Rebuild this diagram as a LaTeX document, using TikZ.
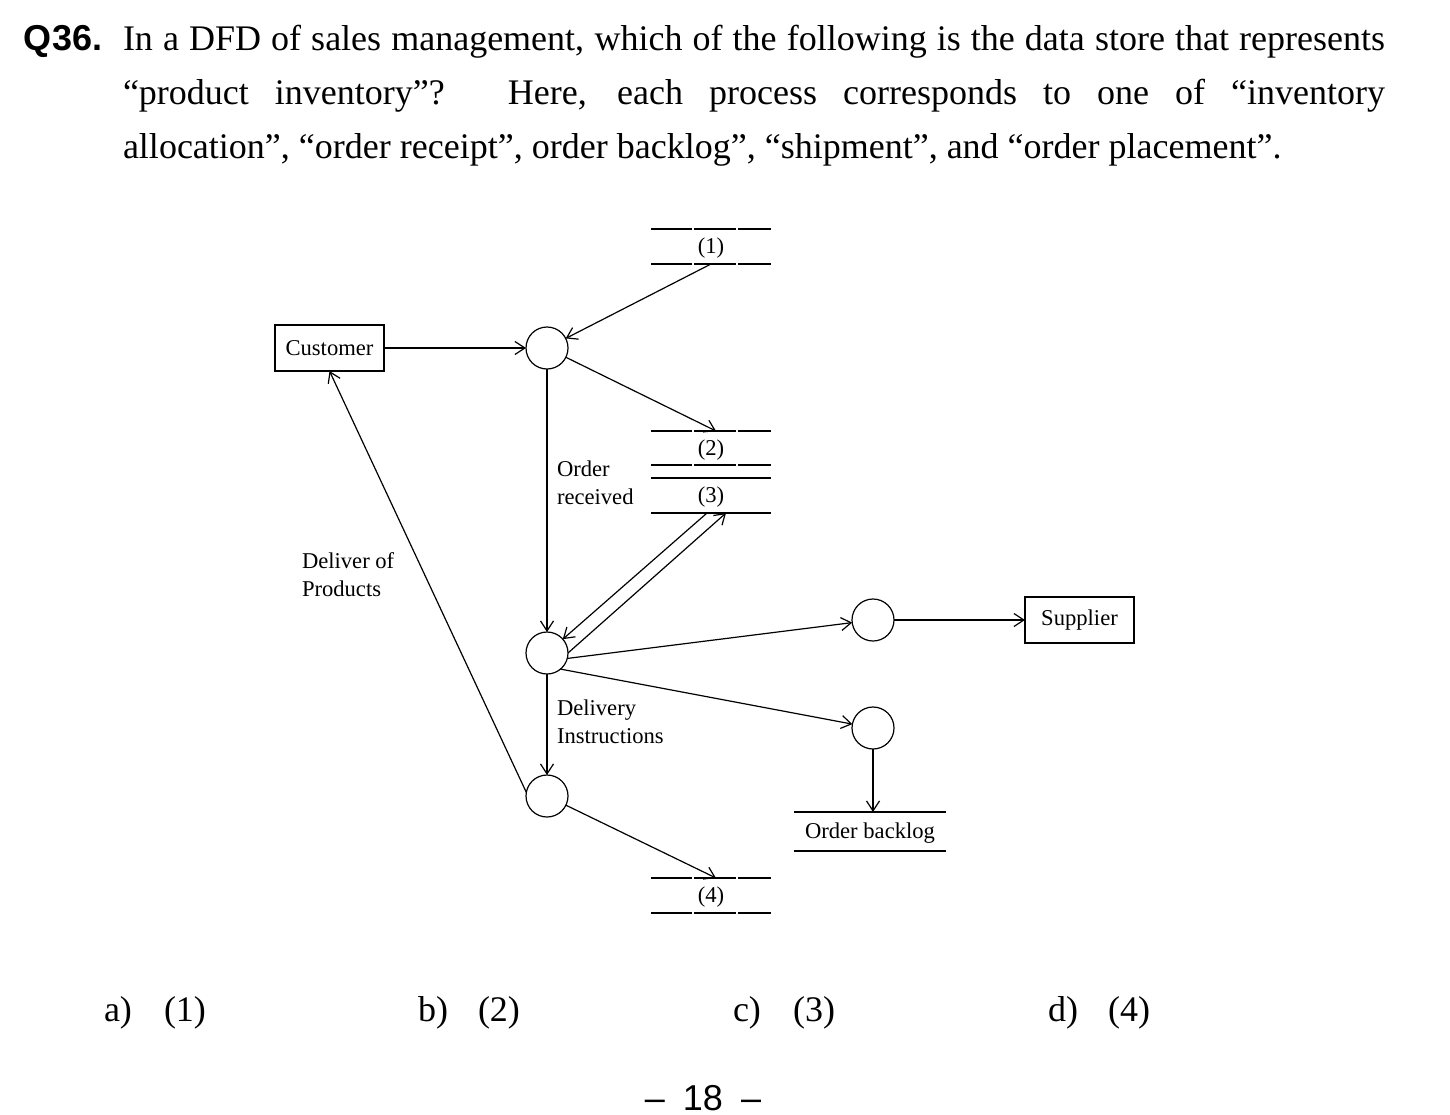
\documentclass[tikz,border=0pt]{standalone}
\usepackage{fontspec}
\setmainfont{Liberation Serif}
\newfontfamily\hel{Liberation Sans}
\usetikzlibrary{arrows.meta,calc}
\begin{document}
\begin{tikzpicture}[x=0.5pt,y=-0.5pt,
  every node/.style={inner sep=0pt, outer sep=0pt},
  lbl/.style={font=\fontsize{11.3}{14}\selectfont},
  entity/.style={draw, line width=0.6pt, minimum width=54.5pt, minimum height=23pt, lbl},
  proc/.style={draw, circle, line width=0.6pt, minimum size=21pt},
  store/.style={minimum width=60pt, minimum height=17.5pt, text height=8.5pt, text depth=1.5pt, lbl},
  storeline/.style={line width=0.6pt},
  flow/.style={line width=0.6pt, -{Straight Barb[length=5pt,width=6.5pt]}},
  big/.style={font=\fontsize{18}{27}\selectfont}]
\useasboundingbox (0,0) rectangle (1450,1114);
\fill[white] (0,0) rectangle (1450,1114);

% question text
\node[anchor=base west, font=\hel\bfseries\fontsize{18}{27}\selectfont] (q) at (24,50) {Q36.};
\node[anchor=base west, big] (t1) at (123,50) {\makebox[631pt][s]{In a DFD of sales management, which of the following is the data store that represents}};
\node[anchor=base west, big] (t2) at (123,104) {\makebox[631pt][s]{“product inventory”? Here, each process corresponds to one of “inventory}};
\node[anchor=base west, big] (t3) at (123,158) {allocation”, “order receipt”, order backlog”, “shipment”, and “order placement”.};

% entities and processes
\node[entity] (cust) at (329.5,348) {Customer};
\node[entity] (sup) at (1079.5,620) {Supplier};
\node[proc] (p1) at (547,348) {};
\node[proc] (p2) at (547,653) {};
\node[proc] (p3) at (547,796) {};
\node[proc] (p4) at (873,620) {};
\node[proc] (p5) at (873,728) {};

% data stores
\node[store] (s1) at (711,246.5) {(1)};
\node[store, minimum height=17pt] (s2) at (711,448) {(2)};
\node[store] (s3) at (711,495.5) {(3)};
\node[store] (s4) at (711,895.5) {(4)};
\node[lbl, minimum width=76pt, minimum height=19.5pt, text height=8.5pt, text depth=1.5pt] (ob) at (870,831.5) {Order backlog};

\foreach \s in {s1,s2,s4}{
  \foreach \a in {north west,south west}{
    \draw[storeline] (\s.\a) -- ++(41,0) ++(2,0) -- ++(42,0) ++(2,0) -- ++(33,0);
  }}
\draw[storeline] (s3.north west) -- (s3.north east);
\draw[storeline] (s3.south west) -- (s3.south east);
\draw[storeline] (ob.north west) -- (ob.north east);
\draw[storeline] (ob.south west) -- (ob.south east);

% flows
\draw[flow] (cust) -- (p1);
\draw[flow] (s1.south) -- (p1);
\draw[flow] (p1) -- ([xshift=2.5pt]s2.north);
\draw[flow] (p1) -- (p2);
\draw[flow] ([xshift=-2pt]s3.south) -- (p2);
\draw[flow] (p2.east) -- ([xshift=7.5pt]s3.south);
\draw[flow] (p2.-15) -- (p4);
\draw[flow] (p4) -- (sup);
\draw[flow] (p2.-50) -- (p5);
\draw[flow] (p5) -- (p5 |- ob.north);
\draw[flow] (p2) -- (p3);
\draw[flow] (p3.170) -- (cust.south);
\draw[flow] (p3) -- ([xshift=2.5pt]s4.north);

% flow labels
\node[lbl, align=left, anchor=west] (lor) at (557,483) {Order\\received};
\node[lbl, align=left, anchor=west] (ldi) at (557,722) {Delivery\\Instructions};
\node[lbl, align=left, anchor=west] (ldp) at (302,575) {Deliver of\\Products};

% answers
\node[big, anchor=base west] (aa) at (104,1021) {a)};
\node[big, anchor=base west] (a1) at (164,1021) {(1)};
\node[big, anchor=base west] (bb) at (418,1021) {b)};
\node[big, anchor=base west] (b1) at (478,1021) {(2)};
\node[big, anchor=base west] (cc) at (733,1021) {c)};
\node[big, anchor=base west] (c1) at (793,1021) {(3)};
\node[big, anchor=base west] (dd) at (1048,1021) {d)};
\node[big, anchor=base west] (d1) at (1108,1021) {(4)};

% page number
\node[font=\hel\fontsize{18}{27}\selectfont, anchor=base] (pg) at (703,1110) {–\hspace{9pt}18\hspace{9pt}–};
\end{tikzpicture}
\end{document}
